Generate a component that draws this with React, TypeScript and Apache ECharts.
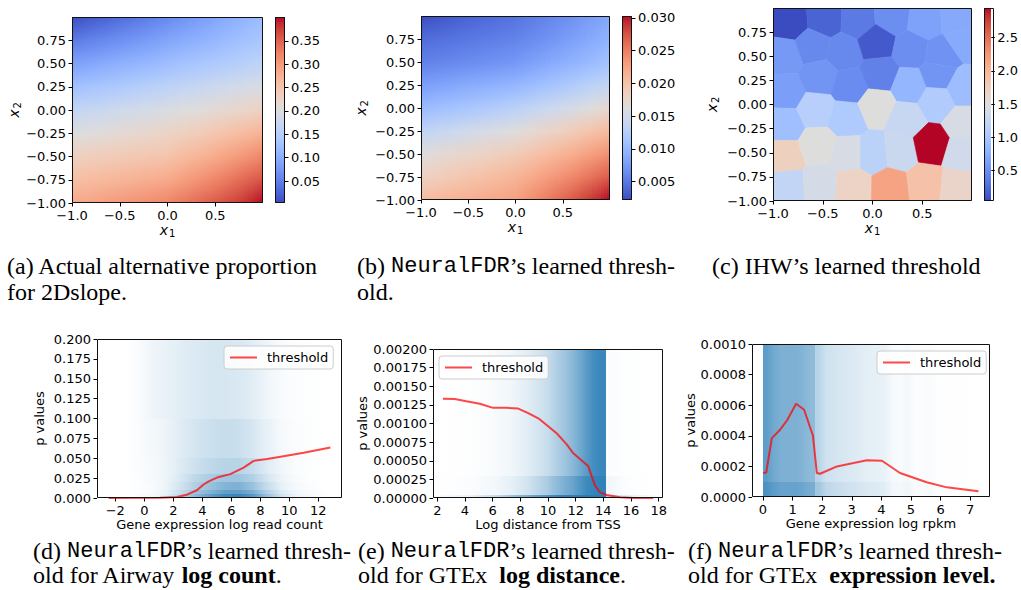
import React, { useEffect, useRef } from "react";
import * as echarts from "echarts";

// ---------------- DATA ----------------
// (a)/(b) heat maps: values at grid nodes, rows = x2 (top to bottom), cols = x1 (left to right)
const gridX1 = [-1, -0.75, -0.5, -0.25, 0, 0.25, 0.5, 0.75, 1];
const gridX2 = [1, 0.75, 0.5, 0.25, 0, -0.25, -0.5, -0.75, -1];

const actualProportion = [
  [0.004, 0.018, 0.032, 0.046, 0.06, 0.075, 0.09, 0.105, 0.12],
  [0.045, 0.056, 0.067, 0.078, 0.09, 0.101, 0.112, 0.124, 0.135],
  [0.085, 0.094, 0.103, 0.112, 0.122, 0.131, 0.141, 0.15, 0.16],
  [0.125, 0.133, 0.141, 0.15, 0.158, 0.167, 0.176, 0.185, 0.195],
  [0.165, 0.172, 0.18, 0.187, 0.195, 0.203, 0.211, 0.22, 0.23],
  [0.2, 0.206, 0.212, 0.218, 0.225, 0.236, 0.248, 0.261, 0.275],
  [0.232, 0.237, 0.242, 0.247, 0.252, 0.267, 0.283, 0.301, 0.32],
  [0.258, 0.264, 0.271, 0.278, 0.285, 0.302, 0.32, 0.34, 0.36],
  [0.285, 0.293, 0.302, 0.311, 0.32, 0.337, 0.355, 0.375, 0.4],
];
const actualRange = [0.003, 0.401];
const actualCbTicks = [0.05, 0.1, 0.15, 0.2, 0.25, 0.3, 0.35];

const neuralThreshold = [
  [0.0023, 0.003, 0.0036, 0.0041, 0.0047, 0.0055, 0.0064, 0.0074, 0.0085],
  [0.0042, 0.0046, 0.005, 0.0054, 0.0058, 0.0066, 0.0075, 0.0085, 0.0095],
  [0.0056, 0.006, 0.0064, 0.0068, 0.0073, 0.0082, 0.0091, 0.01, 0.011],
  [0.0078, 0.0083, 0.0088, 0.0093, 0.0098, 0.0107, 0.0117, 0.0127, 0.0137],
  [0.0103, 0.0109, 0.0115, 0.0122, 0.0129, 0.0139, 0.0149, 0.016, 0.0172],
  [0.0134, 0.0141, 0.0148, 0.0156, 0.0163, 0.0173, 0.0184, 0.0195, 0.0207],
  [0.0163, 0.017, 0.0177, 0.0183, 0.019, 0.0201, 0.0213, 0.0226, 0.024],
  [0.0182, 0.0189, 0.0197, 0.0204, 0.0212, 0.0225, 0.0239, 0.0254, 0.027],
  [0.0205, 0.0211, 0.0216, 0.0222, 0.0228, 0.0246, 0.0264, 0.0283, 0.0303],
];
const neuralRange = [0.0022, 0.0303];
const neuralCbTicks = [0.005, 0.01, 0.015, 0.02, 0.025, 0.03];

// (c) IHW bins: [x1 centre, x2 centre, threshold]
const ihwCells = [
  [-0.83, 0.86, 0.044], [-0.48, 0.886, 0.2], [-0.146, 0.872, 0.35], [0.196, 0.907, 0.5],
  [0.531, 0.862, 0.65], [0.849, 0.879, 0.71],
  [-0.883, 0.498, 0.58], [-0.598, 0.602, 0.45], [-0.29, 0.54, 0.45], [0.039, 0.644, 0.13],
  [0.39, 0.567, 0.5], [0.692, 0.516, 0.53], [0.91, 0.671, 0.72],
  [-0.873, 0.135, 0.62], [-0.531, 0.284, 0.55], [-0.23, 0.194, 0.48], [0.072, 0.318, 0.4],
  [0.374, 0.194, 0.83], [0.658, 0.308, 0.55], [0.91, 0.17, 0.9],
  [-0.883, -0.211, 0.92], [-0.564, -0.055, 1.12], [-0.263, -0.142, 1.05], [0.039, -0.014, 1.5],
  [0.34, -0.152, 1.27], [0.642, 0.031, 1.07], [0.91, -0.201, 1.42],
  [-0.883, -0.533, 1.72], [-0.548, -0.419, 1.5], [-0.246, -0.512, 1.42], [0.005, -0.512, 1.15],
  [0.273, -0.488, 1.3], [0.591, -0.419, 2.947], [0.893, -0.512, 1.35],
  [-0.849, -0.851, 1.22], [-0.531, -0.834, 1.4], [-0.196, -0.851, 1.68], [0.179, -0.858, 2.15],
  [0.534, -0.817, 1.88], [0.849, -0.851, 1.65],
];
const ihwRange = [0.044, 2.947];
const ihwCbTicks = [0.5, 1.0, 1.5, 2.0, 2.5];

const unitXTicks = [-1, -0.5, 0, 0.5];
const unitYTicks = [-1, -0.75, -0.5, -0.25, 0, 0.25, 0.5, 0.75];

// (d) Airway: point density per bin (rows bottom -> top)
const airwayXEdges = [-1, 0, 1, 2, 3, 4, 5, 6, 7, 8, 9, 10, 11, 12, 13];
const airwayYEdges = [0, 0.005, 0.01, 0.02, 0.03, 0.05, 0.1, 0.2];
const airwayDensity = [
  [0.02, 0.04, 0.12, 0.3, 0.5, 0.7, 0.85, 0.9, 0.75, 0.45, 0.2, 0.08, 0.04, 0.01],
  [0.01, 0.03, 0.1, 0.25, 0.42, 0.55, 0.7, 0.72, 0.6, 0.35, 0.15, 0.06, 0.03, 0.01],
  [0.01, 0.03, 0.08, 0.2, 0.35, 0.45, 0.55, 0.58, 0.45, 0.25, 0.1, 0.04, 0.02, 0],
  [0.01, 0.04, 0.08, 0.17, 0.29, 0.37, 0.43, 0.43, 0.34, 0.19, 0.08, 0.03, 0.01, 0],
  [0.02, 0.04, 0.08, 0.15, 0.22, 0.28, 0.32, 0.32, 0.25, 0.14, 0.06, 0.02, 0.01, 0],
  [0.02, 0.05, 0.08, 0.14, 0.19, 0.23, 0.25, 0.24, 0.18, 0.1, 0.04, 0.02, 0.01, 0],
  [0.02, 0.07, 0.1, 0.13, 0.16, 0.18, 0.18, 0.17, 0.13, 0.07, 0.03, 0.015, 0.008, 0],
];
const airwayThreshold = [
  [-2.46, 0], [1.1, 0.0004], [2.25, 0.0013], [2.94, 0.0042], [3.63, 0.0097], [4.09, 0.017],
  [4.44, 0.021], [5.01, 0.0257], [5.93, 0.03], [6.85, 0.0383], [7.54, 0.0467], [8.46, 0.049],
  [9.6, 0.0526], [10.99, 0.0568], [12.83, 0.0635],
];
const airwayXTicks = [-2, 0, 2, 4, 6, 8, 10, 12];
const airwayYTicks = [0, 0.025, 0.05, 0.075, 0.1, 0.125, 0.15, 0.175, 0.2];

// (e) GTEx log distance
const distXEdges = [2, 4, 5, 6, 7, 8, 9, 10, 10.5, 11, 11.5, 12, 12.5, 13, 13.5, 14.2, 15, 16, 18];
const distYEdges = [0, 0.00004, 0.0003, 0.002];
const distDensity = [
  [0.05, 0.1, 0.2, 0.3, 0.45, 0.6, 0.75, 0.85, 0.9, 0.92, 0.94, 0.95, 0.95, 0.95, 0.95, 0.3, 0.15, 0.05],
  [0.01, 0.02, 0.04, 0.07, 0.12, 0.2, 0.32, 0.44, 0.52, 0.6, 0.67, 0.77, 0.86, 0.9, 0.92, 0.06, 0.02, 0.005],
  [0.005, 0.01, 0.02, 0.04, 0.07, 0.13, 0.21, 0.3, 0.37, 0.44, 0.52, 0.62, 0.74, 0.83, 0.88, 0.02, 0.01, 0.003],
];
const distHardEdges = [14.2];
const distThreshold = [
  [2.41, 0.001333], [3.26, 0.00133], [4.1, 0.0013], [5.07, 0.001266], [6.03, 0.00121],
  [7.0, 0.00121], [7.85, 0.0012], [8.57, 0.00114], [9.3, 0.00107], [9.9, 0.00098],
  [10.62, 0.00087], [11.35, 0.00072], [11.83, 0.0006], [12.92, 0.000425], [13.16, 0.00029],
  [13.4, 0.000166], [13.76, 0.000076], [14.25, 0.00004], [15.2, 0.00001], [16.2, 0], [17.6, 0],
];
const distXTicks = [2, 4, 6, 8, 10, 12, 14, 16, 18];
const distYTicks = [0, 0.00025, 0.0005, 0.00075, 0.001, 0.00125, 0.0015, 0.00175, 0.002];

// (f) GTEx expression level
const exprXEdges = [0, 0.25, 0.5, 0.75, 1, 1.25, 1.5, 1.75, 2, 2.25, 2.5, 2.75, 3, 3.25, 3.5, 3.75, 4, 4.25, 4.5, 4.75, 5, 5.25, 5.5, 5.75, 6, 7.3];
const exprYEdges = [0, 0.0001, 0.001];
const exprDensity = [
  [0.8, 0.72, 0.68, 0.68, 0.68, 0.65, 0.6, 0.42, 0.3, 0.26, 0.24, 0.22, 0.2, 0.18, 0.16, 0.15, 0.13, 0.06, 0.05, 0.07, 0.03, 0.03, 0.04, 0.02, 0.01],
  [0.72, 0.63, 0.58, 0.58, 0.58, 0.55, 0.5, 0.32, 0.22, 0.2, 0.18, 0.17, 0.15, 0.13, 0.12, 0.11, 0.1, 0.04, 0.03, 0.05, 0.02, 0.02, 0.03, 0.01, 0.005],
];
const exprHardEdges = [0, 1.75];
const exprThreshold = [
  [0, 0.000157], [0.11, 0.00016], [0.3, 0.000385], [0.58, 0.00044], [0.81, 0.0005],
  [1.12, 0.00061], [1.39, 0.00057], [1.69, 0.0004], [1.82, 0.000157], [1.93, 0.000152],
  [2.5, 0.0002], [3.06, 0.000222], [3.51, 0.00024], [4.02, 0.000237], [4.63, 0.000157],
  [5.53, 0.000096], [6.21, 0.000063], [7.28, 0.000037],
];
const exprXTicks = [0, 1, 2, 3, 4, 5, 6, 7];
const exprYTicks = [0, 0.0002, 0.0004, 0.0006, 0.0008, 0.001];

// ---------------- STYLE ----------------
const SANS = "DejaVu Sans";
const SERIF = "Liberation Serif";
const MONO = "Liberation Mono";
const TICK_FS = 13;
const RED = "rgba(255,0,0,0.72)";

const COOLWARM = [
  [59, 76, 192], [68, 90, 204], [77, 104, 215], [87, 117, 225], [98, 130, 234], [108, 142, 241],
  [119, 154, 247], [130, 165, 251], [141, 176, 254], [152, 185, 255], [163, 194, 255], [174, 201, 253],
  [184, 208, 249], [194, 213, 244], [204, 217, 238], [213, 219, 230], [221, 221, 221], [229, 216, 209],
  [236, 211, 197], [241, 204, 184], [245, 196, 172], [247, 187, 159], [247, 177, 147], [247, 166, 134],
  [244, 154, 123], [241, 141, 111], [236, 127, 99], [229, 112, 89], [222, 96, 77], [213, 80, 66],
  [203, 62, 56], [192, 40, 47], [180, 4, 38],
];
function cw(t: number) {
  const tt = Math.max(0, Math.min(1, t));
  const f = tt * 32;
  const i = Math.min(31, Math.floor(f));
  const r = f - i;
  const a = COOLWARM[i], b = COOLWARM[i + 1];
  return `rgb(${Math.round(a[0] + (b[0] - a[0]) * r)},${Math.round(a[1] + (b[1] - a[1]) * r)},${Math.round(a[2] + (b[2] - a[2]) * r)})`;
}

// layout (px)
const L = {
  a: { x: 72, y: 17, w: 191, h: 186 },
  aCb: { x: 275, y: 17, w: 10, h: 186 },
  b: { x: 421, y: 16, w: 189, h: 184 },
  bCb: { x: 622, y: 16, w: 10, h: 184 },
  c: { x: 773, y: 8, w: 199, h: 193 },
  cCb: { x: 984, y: 8, w: 10, h: 193 },
  d: { x: 97, y: 339, w: 245, h: 159 },
  e: { x: 433, y: 349, w: 230, h: 149 },
  f: { x: 752, y: 344, w: 238, h: 153 },
};
const ORDER = ["a", "aCb", "b", "bCb", "c", "cCb", "d", "e", "f"] as const;

function fmt(v: number, digits: number) {
  const s = Math.abs(v).toFixed(digits);
  return (v < -1e-12 ? "\u2212" : "") + s;
}

function valAxis(gridIndex: number, min: number, max: number, ticks: number[], digits: number, extra: any = {}) {
  return {
    type: "value",
    gridIndex,
    min,
    max,
    axisLine: { show: false, onZero: false },
    splitLine: { show: false },
    axisTick: { show: true, length: 3.5, customValues: ticks, lineStyle: { color: "#000", width: 1 } },
    axisLabel: {
      show: true,
      customValues: ticks,
      margin: 6,
      fontFamily: SANS,
      fontSize: TICK_FS,
      color: "#000",
      hideOverlap: false,
      formatter: (v: number) => fmt(v, digits),
    },
    ...extra,
  };
}

const subRich = (n: string) => ({
  name: `{i|x}{s|${n}}`,
  nameTextStyle: {
    color: "#000",
    rich: {
      i: { fontFamily: SANS, fontStyle: "italic", fontSize: 14, color: "#000" },
      s: { fontFamily: SANS, fontSize: 10, color: "#000", padding: [7, 0, 0, 1] },
    },
  },
});

const plainName = (name: string) => ({
  name,
  nameLocation: "middle",
  nameTextStyle: { fontFamily: SANS, fontSize: 13, color: "#000" },
});

// each node column is painted as thin sub-strips, shaded smoothly toward its neighbours
function heatStrips(axisIdx: number, M: number[][], range: number[]) {
  const n = gridX1.length;
  const SUB = 4;
  return {
    type: "custom",
    xAxisIndex: axisIdx,
    yAxisIndex: axisIdx,
    silent: true,
    clip: true,
    data: gridX1.map((x) => [x, 0]),
    encode: { x: 0, y: 1 },
    renderItem: (params: any, api: any) => {
      const j = params.dataIndex;
      const xj = gridX1[j];
      const pTop = api.coord([gridX1[0], gridX2[0]]);
      const pBot = api.coord([gridX1[0], gridX2[gridX2.length - 1]]);
      const y0 = Math.round(pTop[1]), y1 = Math.round(pBot[1]);
      const offs = gridX2.map((v) => Math.max(0, Math.min(1, (api.coord([0, v])[1] - pTop[1]) / (pBot[1] - pTop[1]))));
      const children: any[] = [];
      const neighbours: number[] = [];
      if (j > 0) neighbours.push(j - 1);
      if (j < n - 1) neighbours.push(j + 1);
      neighbours.forEach((nb) => {
        const xn = gridX1[nb];
        const half = (xn - xj) / 2;
        for (let s = 0; s < SUB; s++) {
          const a = xj + (half * s) / SUB;
          const b = xj + (half * (s + 1)) / SUB;
          const fc = ((s + 0.5) / SUB) * 0.5;
          const pa = Math.round(api.coord([a, 0])[0]);
          const pb = Math.round(api.coord([b, 0])[0]);
          const left = Math.min(pa, pb), w = Math.abs(pb - pa);
          if (w <= 0) continue;
          const stops = gridX2.map((_v, i) => ({
            offset: offs[i],
            color: cw((M[i][j] + (M[i][nb] - M[i][j]) * fc - range[0]) / (range[1] - range[0])),
          }));
          children.push({
            type: "rect",
            shape: { x: left, y: y0, width: w, height: y1 - y0 },
            style: { fill: new echarts.graphic.LinearGradient(0, 0, 0, 1, stops) },
          });
        }
      });
      return { type: "group", children };
    },
  };
}

function colorbar(axisIdx: number, range: number[]) {
  return {
    type: "custom",
    xAxisIndex: axisIdx,
    yAxisIndex: axisIdx,
    silent: true,
    clip: false,
    data: [[0.5, (range[0] + range[1]) / 2]],
    encode: { x: 0, y: 1 },
    renderItem: (_p: any, api: any) => {
      const a = api.coord([0, range[1]]);
      const b = api.coord([1, range[0]]);
      const x0 = Math.round(a[0]), y0 = Math.round(a[1]);
      const stops = COOLWARM.map((c, k) => ({ offset: k / 32, color: `rgb(${c[0]},${c[1]},${c[2]})` }));
      return {
        type: "rect",
        shape: { x: x0, y: y0, width: Math.round(b[0]) - x0, height: Math.round(b[1]) - y0 },
        style: { fill: new echarts.graphic.LinearGradient(0, 1, 0, 0, stops) },
      };
    },
  };
}

function voronoi(axisIdx: number) {
  return {
    type: "custom",
    xAxisIndex: axisIdx,
    yAxisIndex: axisIdx,
    silent: true,
    clip: true,
    data: ihwCells,
    encode: { x: 0, y: 1 },
    renderItem: (params: any, api: any) => {
      const cs = params.coordSys;
      const pts = ihwCells.map((c) => api.coord([c[0], c[1]]));
      const i = params.dataIndex;
      const si = pts[i];
      let poly: number[][] = [
        [cs.x, cs.y], [cs.x + cs.width, cs.y], [cs.x + cs.width, cs.y + cs.height], [cs.x, cs.y + cs.height],
      ];
      for (let j = 0; j < pts.length; j++) {
        if (j === i || poly.length === 0) continue;
        const sj = pts[j];
        const nx = sj[0] - si[0], ny = sj[1] - si[1];
        const mx = (si[0] + sj[0]) / 2, my = (si[1] + sj[1]) / 2;
        const f = (p: number[]) => (p[0] - mx) * nx + (p[1] - my) * ny;
        const out: number[][] = [];
        for (let k = 0; k < poly.length; k++) {
          const p = poly[k], q = poly[(k + 1) % poly.length];
          const fp = f(p), fq = f(q);
          if (fp <= 0) out.push(p);
          if ((fp <= 0) !== (fq <= 0)) {
            const t = fp / (fp - fq);
            out.push([p[0] + (q[0] - p[0]) * t, p[1] + (q[1] - p[1]) * t]);
          }
        }
        poly = out;
      }
      const col = cw((ihwCells[i][2] - ihwRange[0]) / (ihwRange[1] - ihwRange[0]));
      return { type: "polygon", shape: { points: poly }, style: { fill: col, stroke: col, lineWidth: 0.6 } };
    },
  };
}

const dotRGB = "31,119,180";
function density(axisIdx: number, xEdges: number[], yEdges: number[], dens: number[][], hard: number[] = []) {
  const data: number[][] = [];
  dens.forEach((row, r) =>
    row.forEach((d, c) => {
      const leftHard = hard.some((h) => Math.abs(h - xEdges[c]) < 1e-9);
      const rightHard = hard.some((h) => Math.abs(h - xEdges[c + 1]) < 1e-9);
      const dl = leftHard ? d : c > 0 ? row[c - 1] : 0;
      const dr = rightHard ? d : c < row.length - 1 ? row[c + 1] : 0;
      data.push([xEdges[c], xEdges[c + 1], yEdges[r], yEdges[r + 1], d, dl, dr]);
    })
  );
  return {
    type: "custom",
    xAxisIndex: axisIdx,
    yAxisIndex: axisIdx,
    silent: true,
    clip: true,
    data,
    encode: { x: [0, 1], y: [2, 3] },
    renderItem: (_p: any, api: any) => {
      const a = api.coord([api.value(0), api.value(3)]);
      const b = api.coord([api.value(1), api.value(2)]);
      const x0 = Math.round(a[0]), y0 = Math.round(a[1]);
      const d = api.value(4), dl = api.value(5), dr = api.value(6);
      const col = (v: number) => `rgba(${dotRGB},${Math.max(0, Math.min(1, v)).toFixed(3)})`;
      return {
        type: "rect",
        shape: { x: x0, y: y0, width: Math.round(b[0]) - x0, height: Math.round(b[1]) - y0 },
        style: {
          fill: new echarts.graphic.LinearGradient(0, 0, 1, 0, [
            { offset: 0, color: col((d + dl) / 2) },
            { offset: 0.5, color: col(d) },
            { offset: 1, color: col((d + dr) / 2) },
          ]),
        },
      };
    },
  };
}

function thresholdLine(axisIdx: number, data: number[][]) {
  return {
    type: "line",
    name: "threshold",
    xAxisIndex: axisIdx,
    yAxisIndex: axisIdx,
    data,
    symbol: "none",
    clip: true,
    z: 5,
    lineStyle: { color: RED, width: 2 },
    itemStyle: { color: RED },
  };
}

function legendAt(left: number, top: number) {
  return {
    data: [{ name: "threshold", icon: "rect" }],
    left,
    top,
    orient: "vertical",
    backgroundColor: "rgba(255,255,255,0.85)",
    borderColor: "#cccccc",
    borderWidth: 1,
    borderRadius: 3,
    padding: [4, 5, 4, 6],
    itemWidth: 27,
    itemHeight: 2,
    selectedMode: false,
    textStyle: { fontFamily: SANS, fontSize: 13, color: "#000", padding: [0, 0, 0, 5], lineHeight: 15 },
  };
}

function buildOption() {
  const grids = ORDER.map((k) => ({ left: L[k].x, top: L[k].y, width: L[k].w, height: L[k].h, containLabel: false }));
  const cbX = (gi: number) => ({ type: "value", gridIndex: gi, min: 0, max: 1, show: false });

  const xAxis: any[] = [
    valAxis(0, -1, 1, unitXTicks, 1, { ...subRich("1"), nameLocation: "middle", nameGap: 18 }),
    cbX(1),
    valAxis(2, -1, 1, unitXTicks, 1, { ...subRich("1"), nameLocation: "middle", nameGap: 9 }),
    cbX(3),
    valAxis(4, -1, 1, unitXTicks, 1, { ...subRich("1"), nameLocation: "middle", nameGap: 18 }),
    cbX(5),
    valAxis(6, -3.26, 13.63, airwayXTicks, 0, { ...plainName("Gene expression log read count"), nameGap: 18 }),
    valAxis(7, 1.69, 18.31, distXTicks, 0, { ...plainName("Log distance from TSS"), nameGap: 18 }),
    valAxis(8, -0.37, 7.67, exprXTicks, 0, { ...plainName("Gene expression log rpkm"), nameGap: 18 }),
  ];
  const yAxis: any[] = [
    valAxis(0, -1, 1, unitYTicks, 2, { ...subRich("2"), nameLocation: "middle", nameGap: 49, nameRotate: 90 }),
    valAxis(1, actualRange[0], actualRange[1], actualCbTicks, 2, { position: "right" }),
    valAxis(2, -1, 1, unitYTicks, 2, { ...subRich("2"), nameLocation: "middle", nameGap: 52, nameRotate: 90 }),
    valAxis(3, neuralRange[0], neuralRange[1], neuralCbTicks, 3, { position: "right" }),
    valAxis(4, -1, 1, unitYTicks, 2, { ...subRich("2"), nameLocation: "middle", nameGap: 53, nameRotate: 90 }),
    valAxis(5, ihwRange[0], ihwRange[1], ihwCbTicks, 1, { position: "right" }),
    valAxis(6, 0, 0.2, airwayYTicks, 3, { ...plainName("p values"), nameGap: 51 }),
    valAxis(7, 0, 0.002, distYTicks, 5, { ...plainName("p values"), nameGap: 56 }),
    valAxis(8, 0, 0.001, exprYTicks, 4, { ...plainName("p values"), nameGap: 50 }),
  ];

  const series: any[] = [
    heatStrips(0, actualProportion, actualRange),
    colorbar(1, actualRange),
    heatStrips(2, neuralThreshold, neuralRange),
    colorbar(3, neuralRange),
    voronoi(4),
    colorbar(5, ihwRange),
    density(6, airwayXEdges, airwayYEdges, airwayDensity),
    thresholdLine(6, airwayThreshold),
    density(7, distXEdges, distYEdges, distDensity, distHardEdges),
    thresholdLine(7, distThreshold),
    density(8, exprXEdges, exprYEdges, exprDensity, exprHardEdges),
    thresholdLine(8, exprThreshold),
  ];

  const frames = ORDER.map((k) => ({
    type: "rect",
    z: 50,
    silent: true,
    shape: { x: L[k].x + 0.5, y: L[k].y + 0.5, width: L[k].w - 1, height: L[k].h - 1 },
    style: { fill: "none", stroke: "#111", lineWidth: 1 },
  }));

  const rich = {
    t: { fontFamily: SERIF, fontSize: 24, color: "#000" },
    m: { fontFamily: MONO, fontSize: 22, color: "#000" },
    b: { fontFamily: SERIF, fontSize: 24, fontWeight: "bold", color: "#000" },
  };
  const cap = (x: number, y: number, text: string) => ({
    type: "text",
    x,
    y,
    z: 60,
    silent: true,
    style: { text, rich, fontFamily: SERIF, fontSize: 24, fill: "#000", align: "left", verticalAlign: "middle" },
  });
  const NF = "{m|NeuralFDR}{t|\u2019s learned thresh-}";
  const captions = [
    cap(7, 266, "{t|(a) Actual alternative proportion}"),
    cap(7, 292, "{t|for 2Dslope.}"),
    cap(357, 266, "{t|(b) }" + NF),
    cap(357, 292, "{t|old.}"),
    cap(712, 266, "{t|(c) IHW\u2019s learned threshold}"),
    cap(33, 551, "{t|(d) }" + NF),
    cap(33, 575, "{t|old for Airway }{b|log count}{t|.}"),
    cap(358, 551, "{t|(e) }" + NF),
    cap(358, 575, "{t|old for GTEx  }{b|log distance}{t|.}"),
    cap(688, 551, "{t|(f) }" + NF),
    cap(688, 575, "{t|old for GTEx  }{b|expression level.}"),
  ];

  return {
    animation: false,
    backgroundColor: "#ffffff",
    grid: grids,
    xAxis,
    yAxis,
    series,
    legend: [legendAt(224, 346), legendAt(439, 356), legendAt(877, 351)],
    graphic: { elements: [...frames, ...captions] },
  };
}

export default function App() {
  const ref = useRef<HTMLDivElement>(null);
  useEffect(() => {
    document.body.style.margin = "0";
    const chart = echarts.init(ref.current!, null, { renderer: "svg" });
    chart.setOption(buildOption() as any);
    return () => chart.dispose();
  }, []);
  return <div ref={ref} style={{ width: 1021, height: 590 }} />;
}
